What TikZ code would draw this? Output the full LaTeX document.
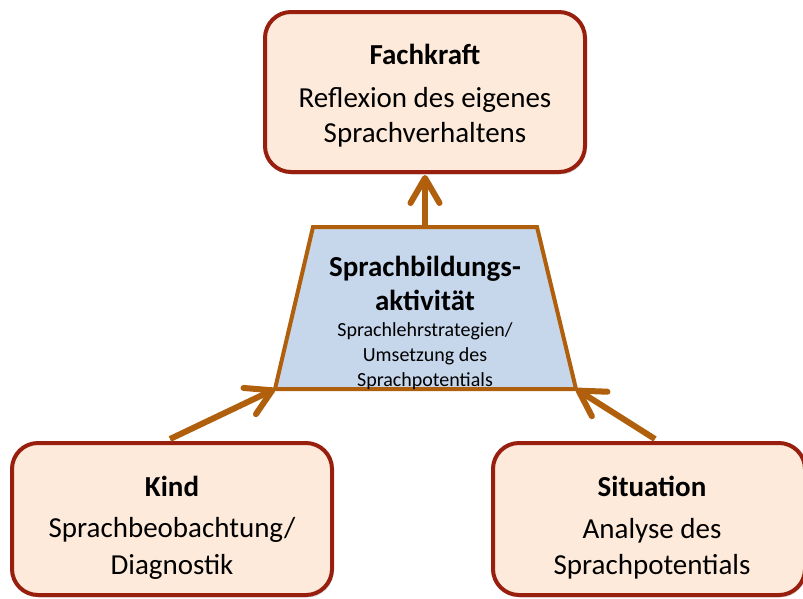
\documentclass[tikz,border=0pt]{standalone}
\usepackage{fontspec}
\setmainfont{Carlito}
\usetikzlibrary{arrows.meta,shadows}
\definecolor{boxfill}{HTML}{FDEADA}
\definecolor{boxline}{HTML}{981E0E}
\definecolor{trapfill}{HTML}{C6D7EC}
\definecolor{arrbrown}{HTML}{B0600C}
\begin{document}
\begin{tikzpicture}[x=1pt,y=-1pt,
  rbox/.style={draw=boxline, line width=4pt, fill=boxfill, rounded corners=26pt,
    minimum width=320pt, minimum height=156pt, inner sep=0pt,
    drop shadow={opacity=0.25, shadow xshift=1.5pt, shadow yshift=-2.5pt}},
  boxtext/.style={align=center, inner sep=0pt, font=\fontsize{29}{35}\selectfont},
  trapline/.style={draw=arrbrown, line width=4pt, fill=trapfill, line join=miter},
  arr/.style={draw=arrbrown, line width=6pt,
    -{Straight Barb[length=25pt,width=29pt,round]}},
  bigtext/.style={align=center, font=\fontsize{29}{34}\selectfont\bfseries, inner sep=0pt},
  smalltext/.style={align=center, font=\fontsize{20}{25}\selectfont, inner sep=0pt}
]
\useasboundingbox (0,0) rectangle (803,598);
\fill[white] (0,0) rectangle (803,598);

% trapezoid
\coordinate (tl) at (313,227);
\coordinate (tr) at (537,227);
\coordinate (br) at (576,389);
\coordinate (bl) at (275,389);
\coordinate (tc) at (425,227);
\path[trapline] (tl) -- (tr) -- (br) -- (bl) -- cycle;
\node[bigtext] (traptitle) at (425,283) {Sprachbildungs-\\aktivität};
\node[smalltext] (trapsub) at (425,356) {Sprachlehrstrategien/\\Umsetzung des\\Sprachpotentials};

% boxes
\node[rbox, minimum height=160pt] (fach) at (425,92) {};
\node[boxtext] (fachtext) at (425,96)
  {\textbf{Fachkraft}\\[8pt]Reflexion des eigenes\\Sprachverhaltens};
\node[rbox, minimum height=152pt] (kind) at (172,519) {};
\node[boxtext, font=\fontsize{29}{37}\selectfont] (kindtext) at (172,528)
  {\textbf{Kind}\\[4pt]Sprachbeobachtung/\\Diagnostik};
\node[rbox, minimum height=152pt, minimum width=312pt] (sit) at (649,519) {};
\node[boxtext, font=\fontsize{29}{36}\selectfont] (sittext) at (652,528)
  {\textbf{Situation}\\[6pt]Analyse des\\Sprachpotentials};

% arrows
\draw[arr] (tc) -- ([yshift=-1pt]fach.south);
\draw[arr] ([xshift=-2pt,yshift=2pt]kind.north) -- (bl);
\draw[arr] ([xshift=6pt,yshift=2pt]sit.north) -- (br);
\end{tikzpicture}
\end{document}
